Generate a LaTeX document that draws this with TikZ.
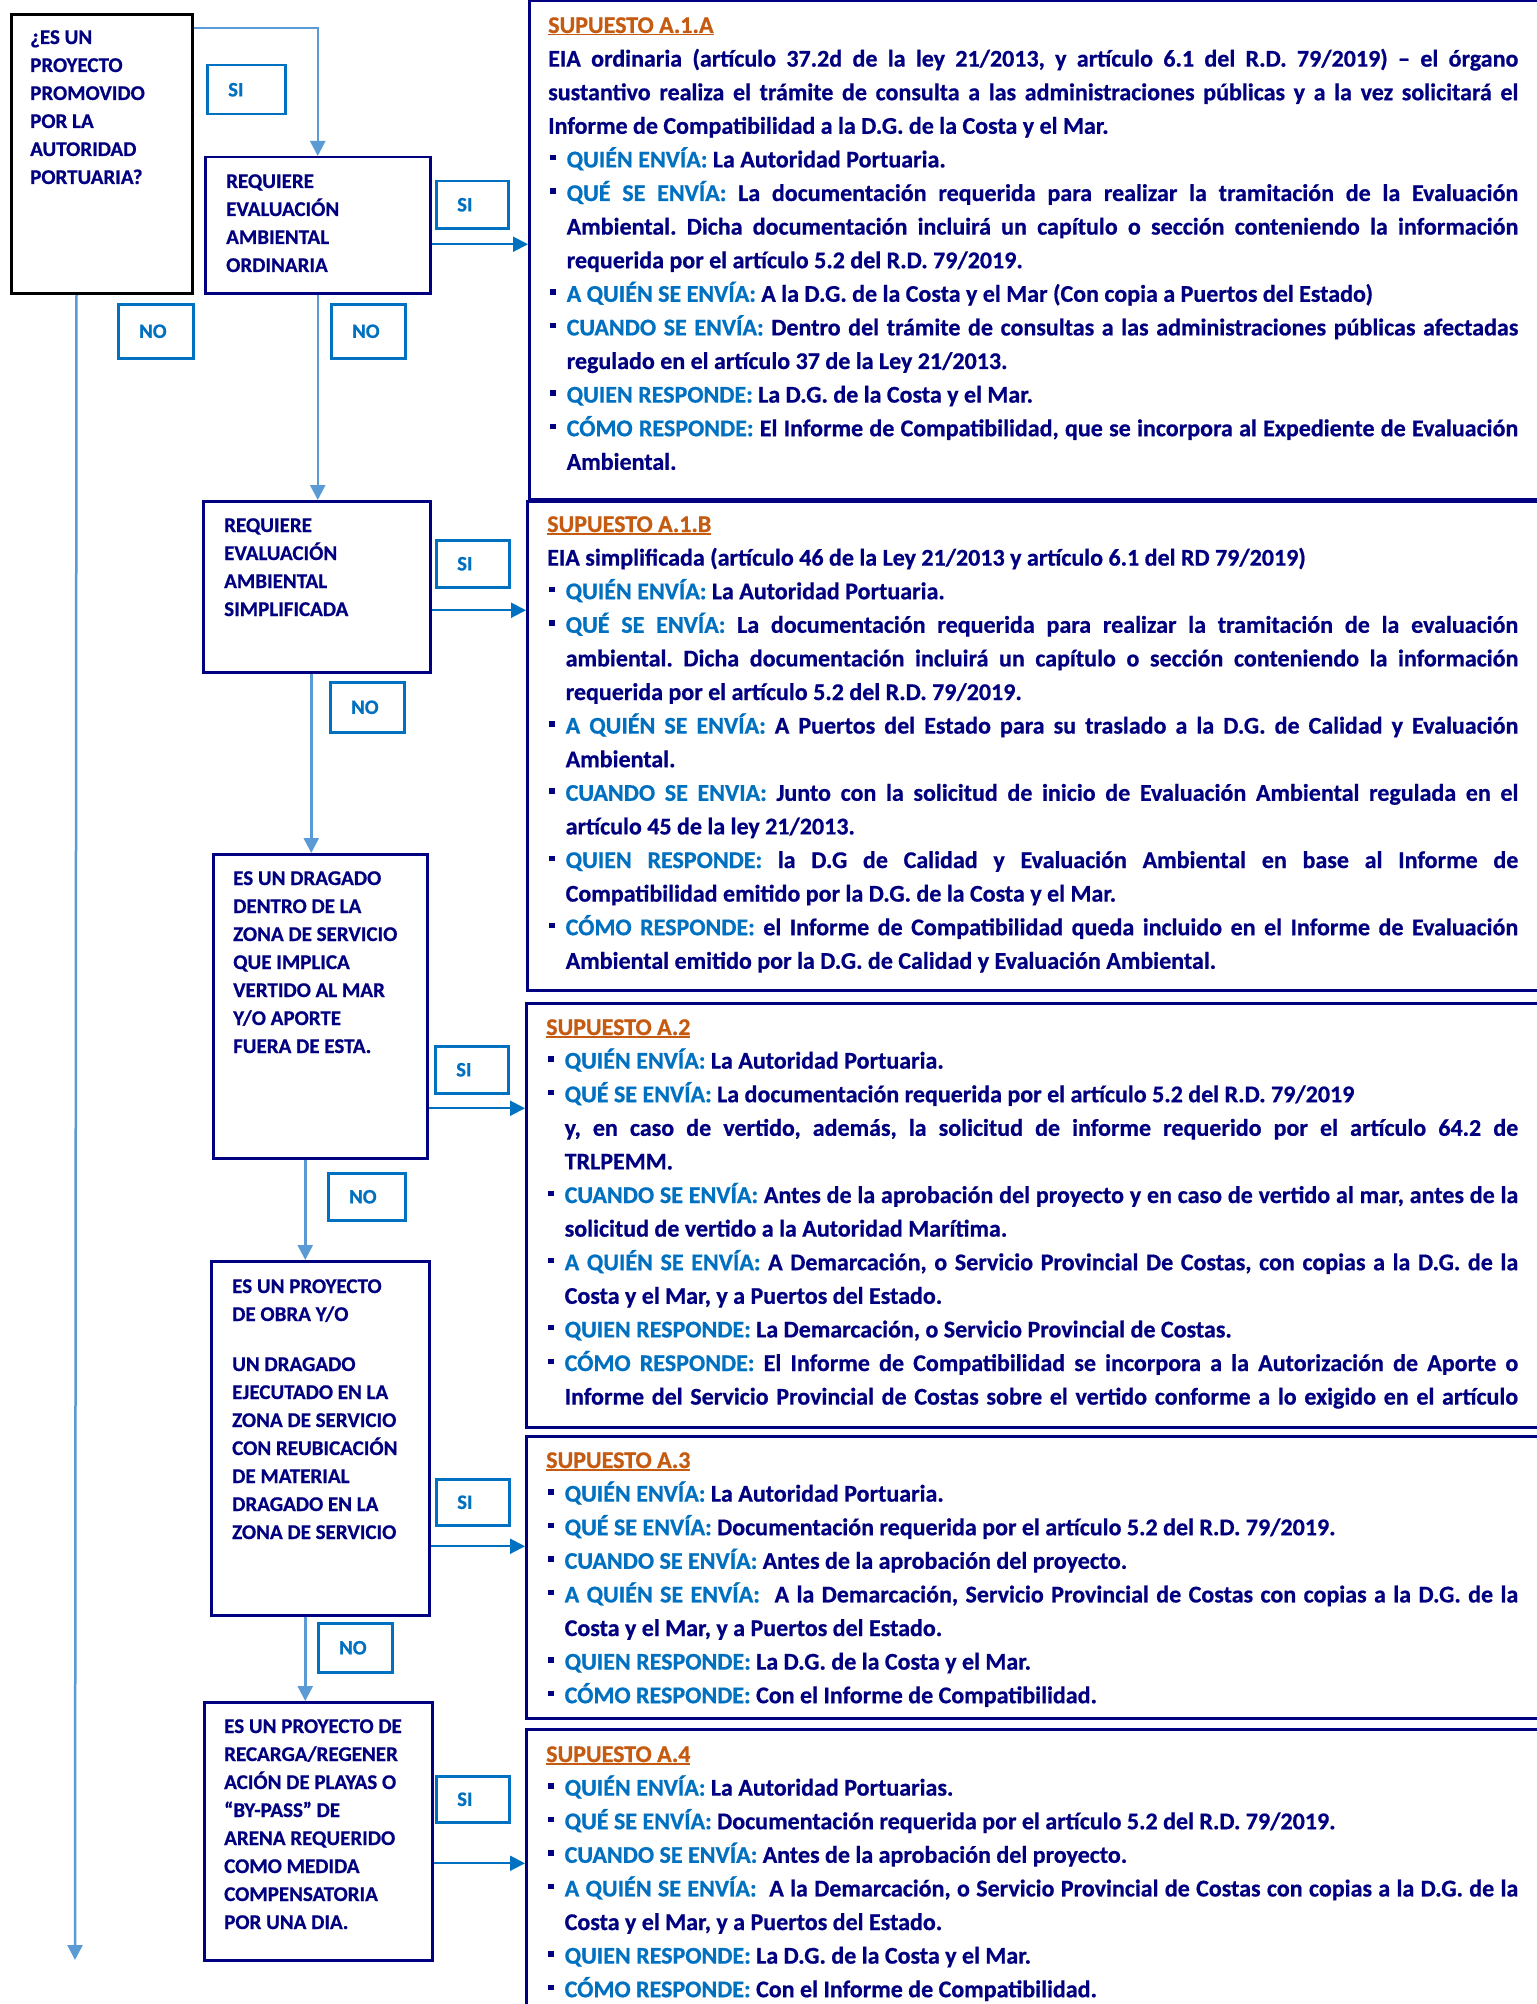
\documentclass[tikz,border=0pt]{standalone}
\usepackage{fontspec}
\setmainfont{Carlito}[BoldFeatures={FakeBold=0.7}]
\usetikzlibrary{arrows.meta}
\definecolor{navy}{HTML}{000080}
\definecolor{lab}{HTML}{0070C0}
\definecolor{conn}{HTML}{5B9BD5}
\definecolor{torange}{HTML}{C55A11}
\definecolor{lav}{HTML}{B8B8E0}
\frenchspacing
\newcommand\ttl[1]{{\color{torange}\setbox0\hbox{#1}\rlap{\rule[-2.5pt]{\wd0}{1.6pt}}\box0}}
\newcommand\bul{\rule[7pt]{5.5pt}{5.5pt}}
\newcommand\itm[1]{\par\leftskip=18.5pt\noindent\llap{\bul\hspace{11pt}}{\color{lab}#1}}
\newcommand\plain{\par\leftskip=0pt\noindent}
\newcommand\rtxt[2]{\parbox[t]{#1pt}{\fontsize{24}{33.6}\selectfont\bfseries\frenchspacing\lineskiplimit=-100pt\parindent=0pt\tolerance=3000\hbadness=10000 #2}}
\newcommand\ltxt[1]{\parbox[t]{220pt}{\fontsize{21}{28}\selectfont\bfseries\lineskiplimit=-100pt\parindent=0pt #1}}
\begin{document}
\begin{tikzpicture}[x=1pt,y=-1pt,
  qbox/.style={draw=navy,line width=2.5pt,inner sep=0pt,anchor=north west},
  lbl/.style={draw=lab,line width=2.5pt,anchor=north west,inner ysep=0pt,inner xsep=21pt,align=left,text=lab,font=\fontsize{20.5}{24}\selectfont\bfseries},
  lconn/.style={draw=conn,line width=2.5pt,-{Triangle[length=15pt,width=15pt]}},
  rconn/.style={draw=lab,line width=2pt,-{Triangle[length=15pt,width=15pt]}},
  big/.style={draw=navy,line width=2.5pt,inner sep=0pt,anchor=north west},
  ltext/.style={anchor=base west,inner sep=0pt,text=navy},
  rtext/.style={anchor=base west,inner sep=0pt,text=navy}]
\useasboundingbox (0,0) rectangle (1536,2004);
\fill[white] (0,0) rectangle (1536,2004);

% right-hand boxes
\node[big,minimum width=1032pt,minimum height=498.6pt] (A1A) at (528,-0.6) {};
\draw[lav,line width=1pt] (A1A.north west) -- (A1A.north east);
\node[big,minimum width=1034pt,minimum height=489pt] (A1B) at (526,500) {};
\node[big,minimum width=1035pt,minimum height=424pt] (A2) at (525,1002) {};
\node[big,minimum width=1035pt,minimum height=282pt] (A3) at (525,1435) {};
\node[big,minimum width=1035pt,minimum height=310pt] (A4) at (525,1728) {};

% left decision boxes
\node[qbox,draw=black,line width=3pt,minimum width=181pt,minimum height=279pt] (b1) at (10,13) {};
\node[qbox,minimum width=225pt,minimum height=136pt] (b2) at (204,156) {};
\node[qbox,minimum width=227pt,minimum height=171pt] (b3) at (202,500) {};
\node[qbox,minimum width=214pt,minimum height=304pt] (b4) at (212,853) {};
\node[qbox,minimum width=218pt,minimum height=354pt] (b5) at (210,1260) {};
\node[qbox,minimum width=228pt,minimum height=258pt] (b6) at (203,1701) {};

\node[ltext] (t1) at (30,44) {\ltxt{¿ES UN\\PROYECTO\\PROMOVIDO\\POR LA\\AUTORIDAD\\PORTUARIA?}};
\node[ltext] (t2) at (226,188) {\ltxt{REQUIERE\\EVALUACIÓN\\AMBIENTAL\\ORDINARIA}};
\node[ltext] (t3) at (224,532) {\ltxt{REQUIERE\\EVALUACIÓN\\AMBIENTAL\\SIMPLIFICADA}};
\node[ltext] (t4) at (233,885) {\ltxt{ES UN DRAGADO\\DENTRO DE LA\\ZONA DE SERVICIO\\QUE IMPLICA\\VERTIDO AL MAR\\Y/O APORTE\\FUERA DE ESTA.}};
\node[ltext] (t5) at (232,1293) {\ltxt{ES UN PROYECTO\\DE OBRA Y/O\\[22pt]UN DRAGADO\\EJECUTADO EN LA\\ZONA DE SERVICIO\\CON REUBICACIÓN\\DE MATERIAL\\DRAGADO EN LA\\ZONA DE SERVICIO}};
\node[ltext] (t6) at (224,1733) {\ltxt{ES UN PROYECTO DE\\RECARGA/REGENER\\ACIÓN DE PLAYAS O\\“BY-PASS” DE\\ARENA REQUERIDO\\COMO MEDIDA\\COMPENSATORIA\\POR UNA DIA.}};

% SI / NO labels
\node[lbl,minimum width=78pt,minimum height=49pt,text width=36pt] (si1) at (206,64) {SI};
\node[lbl,minimum width=72pt,minimum height=47pt,text width=30pt] (si2) at (435,180) {SI};
\node[lbl,minimum width=75pt,minimum height=54pt,text width=33pt] (no1) at (117,303) {NO};
\node[lbl,minimum width=74pt,minimum height=54pt,text width=32pt] (no2) at (330,303) {NO};
\node[lbl,minimum width=73pt,minimum height=47pt,text width=31pt] (si3) at (435,539) {SI};
\node[lbl,minimum width=74pt,minimum height=50pt,text width=32pt] (no3) at (329,681) {NO};
\node[lbl,minimum width=73pt,minimum height=47pt,text width=31pt] (si4) at (434,1045) {SI};
\node[lbl,minimum width=77pt,minimum height=47pt,text width=35pt] (no4) at (327,1172) {NO};
\node[lbl,minimum width=73pt,minimum height=46pt,text width=31pt] (si5) at (435,1478) {SI};
\node[lbl,minimum width=74pt,minimum height=49pt,text width=32pt] (no5) at (317,1622) {NO};
\node[lbl,minimum width=73pt,minimum height=46pt,text width=31pt] (si6) at (435,1775) {SI};

% connectors
\draw[lconn] ([yshift=-15pt]b1.north east) -| (b2.north);
\coordinate (endL) at (75,1960);
\draw[lconn] ([xshift=-25.5pt]b1.south) -- (endL);
\draw[lconn] (b2.south) -- (b2.south |- b3.north);
\draw[lconn] ([xshift=-5.5pt]b3.south) coordinate (s3) -- (s3 |- b4.north);
\draw[lconn] ([xshift=-15pt]b4.south) coordinate (s4) -- (s4 |- b5.north);
\draw[lconn] ([xshift=-15pt]b5.south) coordinate (s5) -- (s5 |- b6.north);
\draw[rconn] ([yshift=-19pt]b2.east) coordinate (r2) -- (r2 -| A1A.west);
\draw[rconn] ([yshift=-23.5pt]b3.east) coordinate (r3) -- (r3 -| A1B.west);
\draw[rconn] ([yshift=-102pt]b4.east) coordinate (r4) -- (r4 -| A2.west);
\draw[rconn] ([yshift=-108pt]b5.east) coordinate (r5) -- (r5 -| A3.west);
\draw[rconn] ([yshift=-32pt]b6.east) coordinate (r6) -- (r6 -| A4.west);

% texts of the right boxes
\node[rtext] (txA) at (548,33) {\rtxt{970}{%
\noindent\ttl{SUPUESTO A.1.A}
\plain EIA ordinaria (artículo 37.2d de la ley 21/2013, y artículo 6.1 del R.D. 79/2019) – el órgano\linebreak sustantivo realiza el trámite de consulta a las administraciones públicas y a la vez solicitará el\linebreak Informe de Compatibilidad a la D.G. de la Costa y el Mar.
\itm{QUIÉN ENVÍA:} La Autoridad Portuaria.
\itm{QUÉ SE ENVÍA:} La documentación requerida para realizar la tramitación de la Evaluación\linebreak Ambiental. Dicha documentación incluirá un capítulo o sección conteniendo la información\linebreak requerida por el artículo 5.2 del R.D. 79/2019.
\itm{A QUIÉN SE ENVÍA:} A la D.G. de la Costa y el Mar (Con copia a Puertos del Estado)
\itm{CUANDO SE ENVÍA:} Dentro del trámite de consultas a las administraciones públicas afectadas\linebreak regulado en el artículo 37 de la Ley 21/2013.
\itm{QUIEN RESPONDE:} La D.G. de la Costa y el Mar.
\itm{CÓMO RESPONDE:} El Informe de Compatibilidad, que se incorpora al Expediente de Evaluación\linebreak Ambiental.}};

\node[rtext] (txB) at (547,532) {\rtxt{971}{%
\noindent\ttl{SUPUESTO A.1.B}
\plain EIA simplificada (artículo 46 de la Ley 21/2013 y artículo 6.1 del RD 79/2019)
\itm{QUIÉN ENVÍA:} La Autoridad Portuaria.
\itm{QUÉ SE ENVÍA:} La documentación requerida para realizar la tramitación de la evaluación\linebreak ambiental. Dicha documentación incluirá un capítulo o sección conteniendo la información\linebreak requerida por el artículo 5.2 del R.D. 79/2019.
\itm{A QUIÉN SE ENVÍA:} A Puertos del Estado para su traslado a la D.G. de Calidad y Evaluación\linebreak Ambiental.
\itm{CUANDO SE ENVIA:} Junto con la solicitud de inicio de Evaluación Ambiental regulada en el\linebreak artículo 45 de la ley 21/2013.
\itm{QUIEN RESPONDE:} la D.G de Calidad y Evaluación Ambiental en base al Informe de\linebreak Compatibilidad emitido por la D.G. de la Costa y el Mar.
\itm{CÓMO RESPONDE:} el Informe de Compatibilidad queda incluido en el Informe de Evaluación\linebreak Ambiental emitido por la D.G. de Calidad y Evaluación Ambiental.}};

\node[rtext] (txC) at (546,1035) {\rtxt{972}{%
\noindent\ttl{SUPUESTO A.2}
\itm{QUIÉN ENVÍA:} La Autoridad Portuaria.
\itm{QUÉ SE ENVÍA:} La documentación requerida por el artículo 5.2 del R.D. 79/2019\newline y, en caso de vertido, además, la solicitud de informe requerido por el artículo 64.2 de\linebreak TRLPEMM.
\itm{CUANDO SE ENVÍA:} Antes de la aprobación del proyecto y en caso de vertido al mar, antes de la\linebreak solicitud de vertido a la Autoridad Marítima.
\itm{A QUIÉN SE ENVÍA:} A Demarcación, o Servicio Provincial De Costas, con copias a la D.G. de la\linebreak Costa y el Mar, y a Puertos del Estado.
\itm{QUIEN RESPONDE:} La Demarcación, o Servicio Provincial de Costas.
\itm{CÓMO RESPONDE:} El Informe de Compatibilidad se incorpora a la Autorización de Aporte o\linebreak Informe del Servicio Provincial de Costas sobre el vertido conforme a lo exigido en el artículo{\parfillskip=0pt\par}}};

\node[rtext] (txD) at (546,1468) {\rtxt{972}{%
\noindent\ttl{SUPUESTO A.3}
\itm{QUIÉN ENVÍA:} La Autoridad Portuaria.
\itm{QUÉ SE ENVÍA:} Documentación requerida por el artículo 5.2 del R.D. 79/2019.
\itm{CUANDO SE ENVÍA:} Antes de la aprobación del proyecto.
\itm{A QUIÉN SE ENVÍA:}\ \ A la Demarcación, Servicio Provincial de Costas con copias a la D.G. de la\linebreak Costa y el Mar, y a Puertos del Estado.
\itm{QUIEN RESPONDE:} La D.G. de la Costa y el Mar.
\itm{CÓMO RESPONDE:} Con el Informe de Compatibilidad.}};

\node[rtext] (txE) at (546,1762) {\rtxt{972}{%
\noindent\ttl{SUPUESTO A.4}
\itm{QUIÉN ENVÍA:} La Autoridad Portuarias.
\itm{QUÉ SE ENVÍA:} Documentación requerida por el artículo 5.2 del R.D. 79/2019.
\itm{CUANDO SE ENVÍA:} Antes de la aprobación del proyecto.
\itm{A QUIÉN SE ENVÍA:}\ \ A la Demarcación, o Servicio Provincial de Costas con copias a la D.G. de la\linebreak Costa y el Mar, y a Puertos del Estado.
\itm{QUIEN RESPONDE:} La D.G. de la Costa y el Mar.
\itm{CÓMO RESPONDE:} Con el Informe de Compatibilidad.}};
\end{tikzpicture}
\end{document}
